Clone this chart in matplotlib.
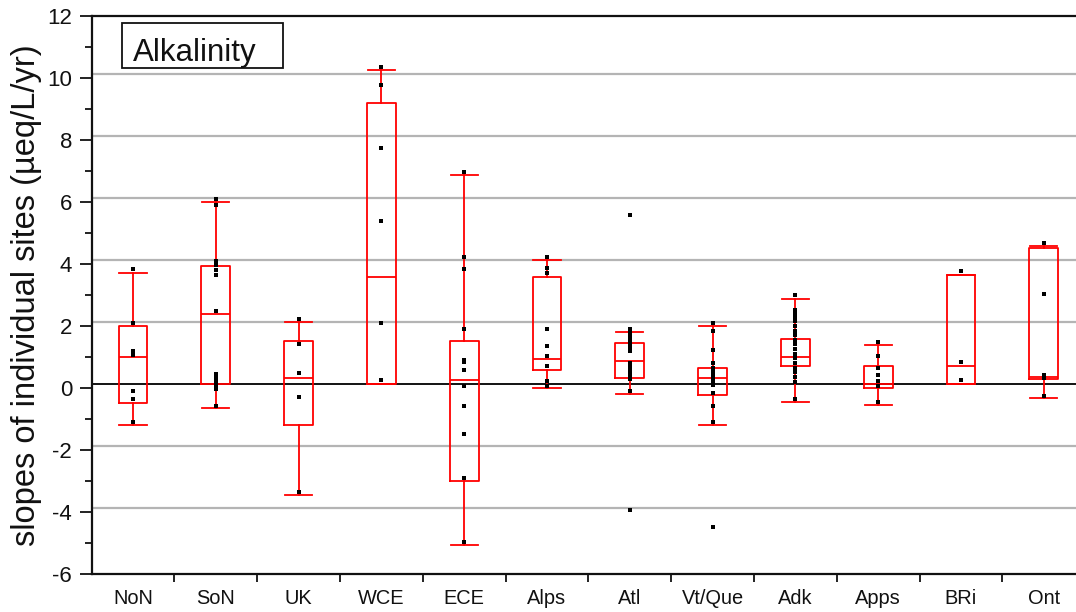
import matplotlib
matplotlib.use("Agg")
import matplotlib.pyplot as plt
from matplotlib.transforms import ScaledTranslation
from matplotlib.patches import Rectangle
import numpy as np

plt.rcParams['font.family'] = ['Liberation Sans', 'DejaVu Sans']
plt.rcParams['axes.unicode_minus'] = False

regions = ["NoN", "SoN", "UK", "WCE", "ECE", "Alps", "Atl", "Vt/Que",
           "Adk", "Apps", "BRi", "Ont"]

# box summaries per region: (lower whisker, q1, median, q3, upper whisker)
whisker_low = [-1.21, -0.66, -3.46, 0.13, -5.07, -0.01, -0.19, -1.19, -0.46, -0.54, 0.13, -0.32]
q1          = [-0.48,  0.13, -1.19, 0.13, -2.99,  0.59,  0.31, -0.22,  0.72,  0.00, 0.13,  0.29]
median      = [ 1.00,  2.39,  0.33, 3.59,  0.25,  0.93,  0.87,  0.31,  1.00,  0.12, 0.72,  0.34]
q3          = [ 1.98,  3.92,  1.52, 9.18,  1.50,  3.59,  1.45,  0.64,  1.59,  0.72, 3.65,  4.51]
whisker_hi  = [ 3.72,  6.00,  2.11, 10.25, 6.87,  4.13,  1.80,  2.01,  2.87,  1.39, 3.65,  4.56]

# slopes at individual sites
sites_NoN = [3.83, 2.09, 1.18, 1.07, -0.09, -0.35, -1.11]
sites_SoN = [6.09, 5.91, 4.10, 3.95, 3.80, 3.65, 2.49, 0.45, 0.32, 0.20, 0.08, -0.02, -0.57]
sites_UK = [2.22, 1.43, 0.48, -0.30, -3.36]
sites_WCE = [10.35, 9.75, 7.75, 5.37, 2.09, 0.24]
sites_ECE = [6.96, 4.22, 3.83, 1.90, 0.91, 0.82, 0.57, 0.07, -0.57, -1.49, -2.90, -4.96]
sites_Alps = [4.22, 3.87, 3.70, 1.90, 1.36, 1.02, 0.72, 0.21, 0.05]
sites_Atl = [5.56, 1.91, 1.80, 1.70, 1.60, 1.50, 1.40, 1.30, 1.20, 0.80, 0.70, 0.60,
             0.50, 0.40, 0.30, -0.11, -3.95]
sites_VtQue = [2.09, 1.82, 1.23, 0.80, 0.65, 0.50, 0.40, 0.30, 0.20, 0.10, -0.16,
               -0.57, -1.11, -4.49]
sites_Adk = [2.98, 2.50, 2.40, 2.30, 2.15, 2.00, 1.85, 1.70, 1.55, 1.40, 1.25, 1.10,
             0.95, 0.80, 0.65, 0.50, 0.35, 0.20, -0.35]
sites_Apps = [1.49, 1.02, 0.64, 0.43, 0.21, 0.05, -0.45]
sites_BRi = [3.76, 0.82, 0.24]
sites_Ont = [4.67, 3.03, 0.43, 0.32, -0.25]
site_slopes = [sites_NoN, sites_SoN, sites_UK, sites_WCE, sites_ECE, sites_Alps,
               sites_Atl, sites_VtQue, sites_Adk, sites_Apps, sites_BRi, sites_Ont]

y_ticks = [-6, -4, -2, 0, 2, 4, 6, 8, 10, 12]
grid_levels = [-4, -2, 2, 4, 6, 8, 10]

fig = plt.figure(figsize=(10.76, 6.12), dpi=100)
ax = fig.add_axes([91.6 / 1076, 38 / 612, 993.6 / 1076, 558.3 / 612])
ax.set_xlim(-0.5, 11.5)
ax.set_ylim(-6, 12)

# horizontal reference lines, nudged slightly upward
shift = ScaledTranslation(0, 3.7 / 100, fig.dpi_scale_trans)
line_trans = ax.get_yaxis_transform() + shift
ax.hlines(grid_levels, 0, 1, transform=line_trans, colors='#b4b4b4', lw=1.6, zorder=1)
ax.hlines([0], 0, 1, transform=line_trans, colors='black', lw=1.3, zorder=1.5)

stats = []
for i, name in enumerate(regions):
    stats.append(dict(label=name, whislo=whisker_low[i], q1=q1[i], med=median[i],
                      q3=q3[i], whishi=whisker_hi[i], fliers=[]))
red = '#ff0000'
ax.bxp(stats, positions=range(len(regions)), widths=0.35, capwidths=0.33,
       showfliers=False, manage_ticks=False,
       boxprops=dict(color=red, lw=1.3), medianprops=dict(color=red, lw=1.3),
       whiskerprops=dict(color=red, lw=1.3), capprops=dict(color=red, lw=1.3),
       zorder=2)

for i, vals in enumerate(site_slopes):
    ax.plot(np.full(len(vals), i), vals, ls='none', marker='s', ms=3.2,
            color='black', mew=0, zorder=3)

# axes styling
for side in ['left', 'bottom', 'top']:
    ax.spines[side].set_linewidth(1.6)
    ax.spines[side].set_color('#111111')
ax.spines['right'].set_visible(False)

ax.set_yticks(y_ticks)
ax.set_yticks(np.arange(-5, 12, 2), minor=True)
ax.tick_params(axis='y', which='major', direction='out', length=9, width=1.3,
               labelsize=16, pad=5, colors='#111111')
ax.tick_params(axis='y', which='minor', direction='out', length=5, width=1.3,
               colors='#111111')

ax.set_xticks(range(len(regions)))
ax.set_xticklabels(regions)
ax.set_xticks(np.arange(0.5, 11.5, 1), minor=True)
ax.tick_params(axis='x', which='major', length=0, labelsize=14.4, pad=11,
               colors='#111111')
ax.tick_params(axis='x', which='minor', direction='out', length=6, width=1.3,
               colors='#111111')

ax.set_ylabel('slopes of individual sites (\u00b5eq/L/yr)', fontsize=23.5,
              color='#111111', labelpad=4)

# panel title in a framed box
ax.add_patch(Rectangle((0.0303, 0.9058), 0.162, 0.0817, transform=ax.transAxes,
                       fill=False, ec='#111111', lw=1.3, zorder=4))
ax.text(0.104, 0.9194, 'Alkalinity', transform=ax.transAxes, ha='center',
        va='baseline', fontsize=22.5, color='#111111', zorder=5)

fig.savefig('out.png', dpi=100)
